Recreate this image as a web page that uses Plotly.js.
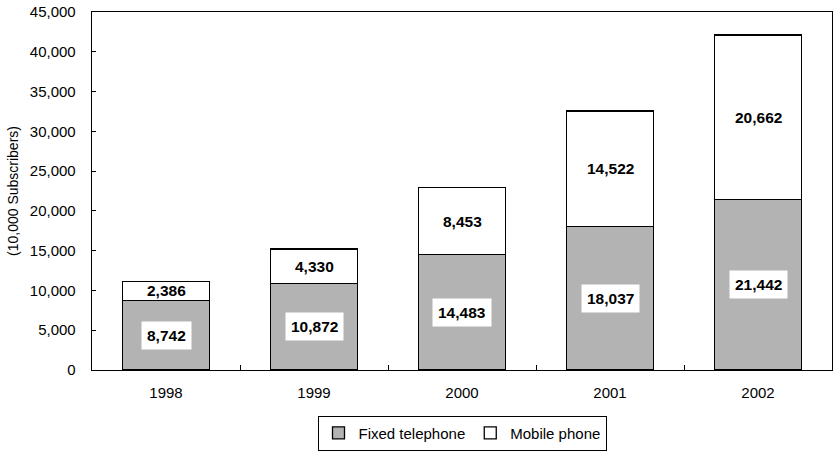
<!DOCTYPE html>
<html>
<head>
<meta charset="utf-8">
<script src="https://cdn.plot.ly/plotly-3.0.1.min.js"></script>
<style>html,body{margin:0;padding:0;background:#fff;}#chart{width:833px;height:452px;}</style>
</head>
<body>
<div id="chart"></div>
<script>
const years = ['1998', '1999', '2000', '2001', '2002'];
const fixedTelephone = [8742, 10872, 14483, 18037, 21442];
const mobilePhone = [2386, 4330, 8453, 14522, 20662];
const yTickVals = [0, 5000, 10000, 15000, 20000, 25000, 30000, 35000, 40000, 45000];

const fmt = v => v.toLocaleString('en-US');
const font = 'Liberation Sans, Arial, Helvetica, sans-serif';

const traces = [
  {
    type: 'bar', name: 'Fixed telephone', x: years, y: fixedTelephone,
    marker: {color: '#b3b3b3', line: {color: '#000', width: 1.3}},
    width: 0.59, hoverinfo: 'skip'
  },
  {
    type: 'bar', name: 'Mobile phone', x: years, y: mobilePhone,
    marker: {color: '#ffffff', line: {color: '#000', width: 1.3}},
    width: 0.59, hoverinfo: 'skip'
  }
];

const annotations = [];
years.forEach((yr, i) => {
  annotations.push({
    x: i, y: fixedTelephone[i] / 2, xref: 'x', yref: 'y',
    text: '<b>' + fmt(fixedTelephone[i]) + '</b>', showarrow: false,
    bgcolor: '#ffffff', borderpad: 5,
    font: {family: font, size: 15.5, color: '#000'}
  });
  annotations.push({
    x: i, y: fixedTelephone[i] + mobilePhone[i] / 2, xref: 'x', yref: 'y',
    text: '<b>' + fmt(mobilePhone[i]) + '</b>', showarrow: false,
    font: {family: font, size: 15.5, color: '#000'}
  });
});

const layout = {
  width: 833, height: 452,
  margin: {l: 92, r: 1, t: 12, b: 82, autoexpand: false},
  paper_bgcolor: '#fff', plot_bgcolor: '#fff',
  barmode: 'stack',
  showlegend: true,
  font: {family: font, size: 14, color: '#000'},
  xaxis: {
    type: 'category', range: [-0.5, 4.5], autorange: false,
    showline: true, linecolor: '#000', linewidth: 1.3, mirror: true,
    ticks: 'inside', tickson: 'boundaries', ticklen: 5, tickcolor: '#000',
    showgrid: false, zeroline: false, tickangle: 0, ticklabelstandoff: 9,
    tickfont: {family: font, size: 15, color: '#000'}
  },
  yaxis: {
    range: [0, 45000], autorange: false, tickvals: yTickVals, ticktext: yTickVals.map(fmt),
    showline: true, linecolor: '#000', linewidth: 1.3, mirror: true,
    ticks: 'inside', ticklen: 4, tickcolor: '#000',
    showgrid: false, zeroline: false, ticklabelstandoff: 12,
    tickfont: {family: font, size: 15, color: '#000'},
    title: {text: '(10,000 Subscribers)', font: {family: font, size: 14, color: '#000'}, standoff: 8}
  },
  legend: {
    orientation: 'h', x: 0.5, xanchor: 'center', y: -0.225, yanchor: 'bottom',
    bordercolor: '#000', borderwidth: 1, bgcolor: '#fff',
    font: {family: font, size: 15, color: '#000'},
    traceorder: 'normal', itemwidth: 30, tracegroupgap: 0
  },
  annotations: annotations
};

Plotly.newPlot('chart', traces, layout, {staticPlot: true, displayModeBar: false});
</script>
</body>
</html>
